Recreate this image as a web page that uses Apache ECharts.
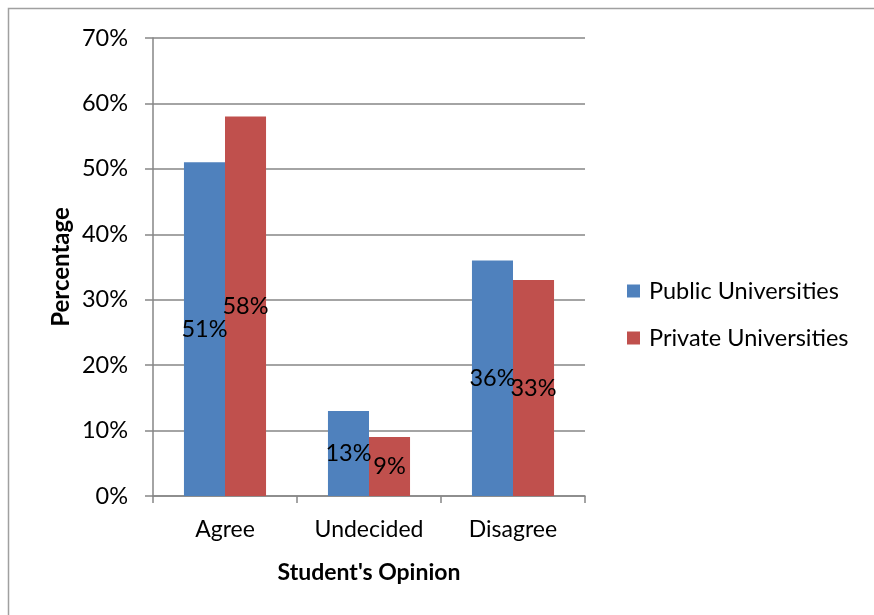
<!DOCTYPE html>
<html><head><meta charset="utf-8">
<script src="https://cdn.jsdelivr.net/npm/echarts@6/dist/echarts.min.js"></script>
<style>html,body{margin:0;padding:0;background:#fff}#c{width:874px;height:615px}</style>
</head><body><div id="c"></div>
<script>
const categories = ["Agree", "Undecided", "Disagree"];
const publicVals = [51, 13, 36];
const privateVals = [58, 9, 33];
const seriesNames = ["Public Universities", "Private Universities"];
const yTicks = [0, 10, 20, 30, 40, 50, 60, 70];

const FONT = "Lato";
const chart = echarts.init(document.getElementById('c'));
const lbl = {show: true, position: 'inside', formatter: p => p.value + '%', color: '#000', fontSize: 23.5, fontFamily: FONT};
chart.setOption({
  animation: false,
  graphic: [{type: 'rect', shape: {x: 8.5, y: 8.5, width: 900, height: 700}, style: {fill: 'none', stroke: '#a0a0a0', lineWidth: 1.5}}],
  grid: {left: 153, right: 289, top: 38, bottom: 119},
  legend: {
    orient: 'vertical', left: 622, top: 274, itemWidth: 13, itemHeight: 13, itemGap: 23,
    icon: 'rect', textStyle: {fontSize: 23.5, fontFamily: FONT, color: '#000', padding: [0,0,0,4]},
    data: seriesNames
  },
  xAxis: {
    type: 'category', data: categories,
    name: "Student's Opinion", nameLocation: 'middle', nameGap: 65,
    nameTextStyle: {fontSize: 23, fontWeight: 'bold', fontFamily: FONT, color: '#000'},
    axisLine: {lineStyle: {color: '#868686', width: 1.5}},
    axisTick: {show: true, length: 7, lineStyle: {color: '#868686', width: 1.5}},
    axisLabel: {fontSize: 23, fontFamily: FONT, color: '#000', margin: 22, interval: 0, hideOverlap: false}
  },
  yAxis: {
    type: 'value', min: 0, max: 70, interval: 10,
    name: 'Percentage', nameLocation: 'middle', nameGap: 80, nameRotate: 90,
    nameTextStyle: {fontSize: 24, fontWeight: 'bold', fontFamily: FONT, color: '#000'},
    axisLine: {show: true, lineStyle: {color: '#868686', width: 1.5}},
    axisTick: {show: true, length: 8, lineStyle: {color: '#868686', width: 1.5}},
    splitLine: {lineStyle: {color: '#868686', width: 1.5}},
    axisLabel: {fontSize: 23.5, fontFamily: FONT, color: '#000', margin: 25,
      formatter: v => yTicks.includes(v) ? v + '%' : ''}
  },
  series: [
    {name: seriesNames[0], type: 'bar', data: publicVals, barGap: '0%', barCategoryGap: '43%',
     itemStyle: {color: '#4f81bd'}, label: lbl},
    {name: seriesNames[1], type: 'bar', data: privateVals, barGap: '0%', barCategoryGap: '43%',
     itemStyle: {color: '#c0504d'}, label: lbl}
  ]
});
</script></body></html>
